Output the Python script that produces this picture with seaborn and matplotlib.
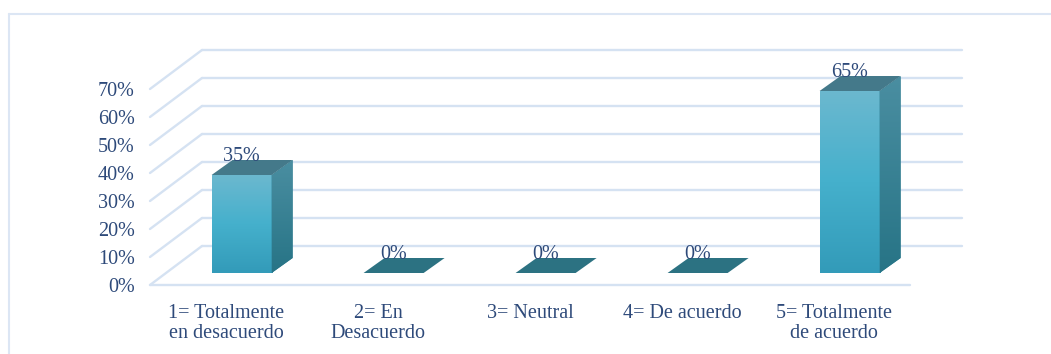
import matplotlib.pyplot as plt
import numpy as np
import pandas as pd
import seaborn as sns
from matplotlib.lines import Line2D
from matplotlib.patches import Polygon
from matplotlib.transforms import ScaledTranslation

categories = [
    "1= Totalmente\nen desacuerdo",
    "2= En\nDesacuerdo",
    "3= Neutral",
    "4= De acuerdo",
    "5= Totalmente\nde acuerdo",
]
values = [0.35, 0.0, 0.0, 0.0, 0.65]
value_labels = ["35%", "0%", "0%", "0%", "65%"]
yticks = [0.0, 0.1, 0.2, 0.3, 0.4, 0.5, 0.6, 0.7]
ytick_labels = ["0%", "10%", "20%", "30%", "40%", "50%", "60%", "70%"]

W, H, DPI = 1051, 354, 100
TEXT = "#2E4A7A"
GRID = "#D5E2F2"
FONT = "Liberation Serif"

sns.set_theme(style="white")
plt.rcParams["font.family"] = [FONT, "DejaVu Serif"]

fig = plt.figure(figsize=(W / DPI, H / DPI), dpi=DPI)

# axes = plane of the bars' front faces
PX_X = 152.0          # px per category
PX_Y = 280.0          # px per 1.0 (100%)
ax = fig.add_axes([165.6 / W, (H - 273) / H, 5 * PX_X / W, 0.7 * PX_Y / H])

df = pd.DataFrame({"cat": categories, "val": values})
sns.barplot(data=df, x="cat", y="val", width=0.395, color="#45AAC7",
            ax=ax, zorder=3, edgecolor="none")
ax.set_xlim(-0.5, 4.5)
ax.set_ylim(0, 0.7)
for s in ax.spines.values():
    s.set_visible(False)
ax.set_xlabel("")
ax.set_ylabel("")

# depth vectors in data units
def px(dx, dy):
    return dx / PX_X, dy / PX_Y

front_dx, front_dy = px(-15.6, -12)   # floor front plane relative to bars
back_dx, back_dy = px(36.4, 27)       # back wall relative to bars
bar_dx, bar_dy = px(21, 15)           # bar depth

# back wall gridlines and left wall diagonals
for v in yticks:
    ax.add_line(Line2D([-0.5 + back_dx, 4.5 + back_dx], [v + back_dy] * 2,
                       color=GRID, lw=1.7, clip_on=False, zorder=1))
    ax.add_line(Line2D([-0.5 + front_dx, -0.5 + back_dx],
                       [v + front_dy, v + back_dy],
                       color=GRID, lw=1.7, clip_on=False, zorder=1))
ax.add_line(Line2D([-0.5 + front_dx, 4.5 + front_dx], [front_dy] * 2,
                   color=GRID, lw=1.7, clip_on=False, zorder=1))

# gradients and 3d faces
grad = np.linspace(0, 1, 100).reshape(-1, 1)
front_cmap = sns.blend_palette(["#339BB9", "#45B0CC", "#6BB8CF"], as_cmap=True)
side_cmap = sns.blend_palette(["#277486", "#4A8EA1"], as_cmap=True)
for patch, val, lab in zip(ax.patches, values, value_labels):
    x0 = patch.get_x()
    x1 = x0 + patch.get_width()
    xc = x0 + patch.get_width() / 2
    h = patch.get_height()
    if h > 0:
        im = ax.imshow(grad, extent=(x0, x1, 0, h), origin="lower",
                       cmap=front_cmap, aspect="auto", zorder=3)
        im.set_clip_path(patch)
        patch.set_alpha(0)
        side = Polygon([(x1, 0), (x1, h), (x1 + bar_dx, h + bar_dy),
                        (x1 + bar_dx, bar_dy)], closed=True,
                       facecolor="#2F7E92", edgecolor="none", zorder=3,
                       clip_on=False)
        ax.add_patch(side)
        sim = ax.imshow(grad, extent=(x1, x1 + bar_dx, 0, h + bar_dy),
                        origin="lower", cmap=side_cmap, aspect="auto",
                        zorder=3.1)
        sim.set_clip_path(side)
        top_color = "#44798A"
    else:
        top_color = "#2C7282"
    top = Polygon([(x0, h), (x1, h), (x1 + bar_dx, h + bar_dy),
                   (x0 + bar_dx, h + bar_dy)], closed=True,
                  facecolor=top_color, edgecolor="none", zorder=3.2,
                  clip_on=False)
    ax.add_patch(top)
    ax.text(xc, h + 14 / PX_Y, lab, ha="center", va="baseline",
            fontsize=14.5, color=TEXT, zorder=4, clip_on=False)

ax.set_xlim(-0.5, 4.5)
ax.set_ylim(0, 0.7)

# tick labels on the floor front plane
ax.set_yticks(yticks)
ax.set_yticklabels(ytick_labels)
ax.tick_params(axis="y", length=0, pad=11, labelsize=14.5, labelcolor=TEXT)
ax.tick_params(axis="x", length=0, pad=14, labelsize=14.5, labelcolor=TEXT)
shift = ScaledTranslation(-15.6 / DPI, -12 / DPI, fig.dpi_scale_trans)
for t in ax.get_yticklabels():
    t.set_transform(t.get_transform() + shift)
for t in ax.get_xticklabels():
    t.set_transform(t.get_transform() + shift)
    t.set_linespacing(1.05)

# outer frame
fig.add_artist(Line2D([9 / W, 9 / W], [0, 1 - 14 / H], color="#DCE6F4",
                      lw=1.5, transform=fig.transFigure))
fig.add_artist(Line2D([9 / W, 1], [1 - 14 / H, 1 - 14 / H], color="#DCE6F4",
                      lw=1.5, transform=fig.transFigure))

fig.savefig("out.png", dpi=DPI)
